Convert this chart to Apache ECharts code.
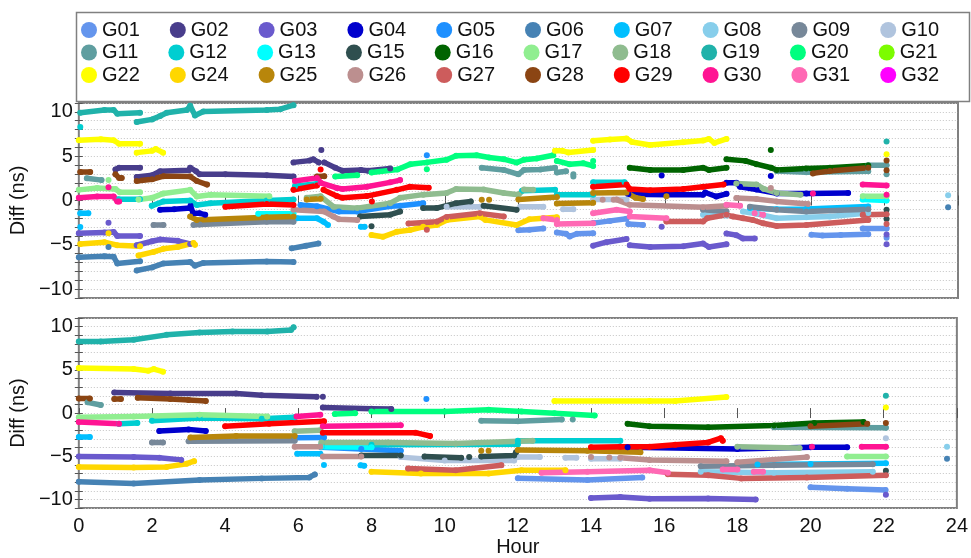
<!DOCTYPE html>
<html>
<head>
<meta charset="utf-8">
<title>GPS satellite clock difference</title>
<script src="https://cdn.jsdelivr.net/npm/echarts@6/dist/echarts.min.js"></script>
<style>
  html, body { margin: 0; padding: 0; background: #fff; }
  #chart { width: 971px; height: 558px; }
</style>
</head>
<body>
<div id="chart"></div>
<script>
// Satellites shown in the legend, in order, with their marker colours.
const SATS = ['G01','G02','G03','G04','G05','G06','G07','G08','G09','G10',
              'G11','G12','G13','G15','G16','G17','G18','G19','G20','G21',
              'G22','G24','G25','G26','G27','G28','G29','G30','G31','G32'];
const COLORS = ['#6495ED','#483D8B','#6A5ACD','#0000CD','#1E90FF','#4682B4','#00BFFF','#87CEEB','#778899','#B0C4DE',
                '#5F9EA0','#00CED1','#00FFFF','#2F4F4F','#006400','#90EE90','#8FBC8F','#20B2AA','#00FF7F','#7CFC00',
                '#FFFF00','#FFD700','#B8860B','#BC8F8F','#CD5C5C','#8B4513','#FF0000','#FF1493','#FF69B4','#FF00FF'];

// Axis ticks
const HOUR_TICKS = [0, 2, 4, 6, 8, 10, 12, 14, 16, 18, 20, 22, 24];
const DIFF_LABELS = [-10, -5, 0, 5, 10];

// Each track is a list of arcs; each arc is a list of [hour, diff ns].
// Upper panel
const G01_top = [[[12.0,-3.35],[12.3,-3.3],[12.68,-3.15]],[[13.05,-3.6],[13.3,-3.75],[13.4,-4.05],[13.6,-3.75],[14.04,-3.7]],[[14.05,-2.55],[14.5,-2.3],[14.95,-2.05]],[[15.0,-2.65],[15.4,-2.75]],[[20.0,-3.85],[20.3,-3.95],[20.8,-3.9],[21.55,-3.8]],[[21.4,-3.15],[22.05,-3.15]],[[22.05,-4.2]]];
const G02_top = [[[1.0,3.5],[1.1,3.7],[1.67,3.7]],[[1.58,2.65],[2.0,2.85],[2.22,3.3],[3.0,3.4],[3.04,3.7],[3.2,3.3],[3.3,2.95],[4.0,2.95],[5.13,2.85],[5.86,2.7]],[[5.86,4.3],[6.3,4.5],[6.4,4.65],[6.55,4.3]],[[6.62,5.7]],[[6.7,4.3],[7.0,3.7],[7.2,3.35],[7.7,3.45],[7.9,3.35],[8.5,3.6]]];
const G03_top = [[[0.81,-2.5]],[[0.0,-3.7],[0.7,-3.6],[0.95,-3.55],[1.05,-4.0],[1.67,-4.0]],[[1.58,-5.05],[2.0,-4.6],[2.22,-4.4],[2.7,-4.55],[3.04,-4.9]],[[14.04,-5.1],[14.4,-4.7],[14.95,-4.35]],[[15.04,-5.05],[15.6,-5.25],[16.5,-5.17],[17.04,-4.86],[17.2,-5.24],[17.68,-4.94]],[[17.68,-3.72],[17.95,-3.91],[18.13,-4.29],[18.45,-4.29]],[[15.91,-2.96]],[[22.05,-3.83]],[[22.05,-4.94]]];
const G04_top = [[[2.22,-1.05],[2.6,-1.0],[3.04,-0.85],[3.05,-0.6],[3.12,-1.45],[3.3,-1.45],[3.45,-1.6]],[[15.0,0.7],[16.04,0.66],[17.04,0.66],[17.1,0.9],[17.4,0.45],[17.68,0.75]],[[17.68,2.0],[17.95,2.0],[18.05,1.54],[18.5,1.23],[19.05,0.8],[19.86,0.78],[21.0,0.85]],[[15.91,2.83]],[[18.89,2.76]]];
const G05_top = [[[6.05,-0.5],[6.5,-0.65],[7.1,-1.25],[7.6,-1.25],[8.5,-0.65],[8.77,-0.6],[9.4,-0.3]],[[9.5,5.1]]];
const G06_top = [[[0.0,-6.4],[0.7,-6.3],[0.95,-6.35],[1.05,-7.1],[1.67,-6.85]],[[1.58,-7.9],[2.0,-7.55],[2.31,-7.1],[3.04,-6.95],[3.17,-7.35],[3.4,-7.05],[5.13,-6.88],[5.86,-6.95]],[[5.81,-5.4],[6.2,-5.1],[6.54,-4.85]],[[0.81,-5.25]],[[23.73,-0.75]]];
const G07_top = [[[0.04,-1.45],[0.26,-1.45]],[[0.04,-3.0]],[[5.96,-2.0],[6.5,-2.0],[6.68,-2.4],[6.8,-2.75]],[[7.7,-2.95],[7.8,-2.95]],[[18.32,-0.85],[19.05,-1.0],[19.86,-0.95],[21.55,-0.67]]];
const G08_top = [[[17.04,-1.6],[17.68,-1.7]],[[18.13,-1.25],[18.5,-1.5],[19.05,-2.0],[19.86,-1.9],[20.5,-1.8],[21.55,-1.4]],[[23.73,0.6]]];
const G09_top = [[[2.04,-2.75],[2.31,-2.75]],[[3.13,-2.75],[3.3,-2.7],[5.13,-2.4],[5.86,-2.4]],[[17.04,-1.05],[17.68,-1.24]],[[18.32,-0.7],[19.05,-1.05],[19.86,-1.24],[21.55,-0.98]]];
const G10_top = [[[10.04,-0.7],[10.95,-0.7]],[[12.05,-0.7],[12.68,-0.7]],[[13.22,-1.0],[13.5,-1.0]],[[14.04,0.1],[14.95,0.1]]];
const G11_top = [[[0.22,2.5],[0.62,2.3]],[[11.0,3.7],[11.6,3.45],[12.0,2.95],[12.15,3.44],[12.6,3.5],[13.0,3.7]],[[13.05,3.15],[13.3,3.3]],[[13.5,2.95]],[[13.5,2.7]],[[19.05,3.33],[19.86,3.2],[21.55,3.3]],[[21.55,3.98],[22.05,3.98]],[[22.05,2.95]]];
const G12_top = [[[0.04,8.3]],[[1.08,0.15],[1.67,0.15]],[[1.99,-0.6],[2.31,-0.1],[3.04,0.0],[3.22,-0.5],[3.6,-0.3],[5.13,0.0],[5.86,0.1]],[[5.9,1.6],[6.5,1.9]],[[12.1,1.1],[13.0,1.2]],[[13.05,0.66],[14.04,0.66]],[[14.04,2.05],[14.9,2.05]]];
const G13_top = [[[4.9,-1.5],[5.86,-1.5]],[[21.4,0.1],[22.05,0.0]]];
const G15_top = [[[7.68,-1.8],[8.5,-1.6],[8.77,-1.25]],[[7.99,-2.9]],[[9.4,-0.85],[9.77,-0.86],[10.3,-0.3],[10.7,-0.1]],[[11.05,-0.6],[11.95,-1.05]],[[22.05,-1.05]],[[22.05,-2.1]]];
const G16_top = [[[15.04,3.7],[15.6,3.45],[16.5,3.45],[17.04,3.7],[17.2,3.45],[17.68,3.7]],[[17.68,4.65],[18.2,4.47],[18.5,4.1],[18.9,3.7],[19.05,3.44],[19.86,3.6],[20.5,3.7],[21.55,3.95]],[[18.89,5.7]]];
const G17_top = [[[0.0,1.2],[0.5,1.4],[1.0,1.3],[1.12,0.93],[1.67,0.93]],[[1.63,0.1],[2.0,0.3],[2.31,0.8],[3.04,1.2],[3.22,0.45],[3.6,0.65],[5.2,0.47]],[[0.81,2.3]],[[21.4,0.47],[22.05,0.47]]];
const G18_top = [[[6.22,0.3],[6.6,0.47],[6.95,-0.7],[7.6,-0.86],[8.5,-0.3],[8.77,0.3],[9.4,0.66],[10.04,0.85],[10.3,1.3],[11.05,1.25],[11.6,0.85],[12.0,0.66],[12.15,1.25],[12.4,1.2]],[[17.95,1.92],[18.5,1.8],[18.7,1.3],[19.05,0.85],[19.7,0.66]]];
const G19_top = [[[0.04,9.9],[0.7,10.2],[0.95,10.2],[1.05,9.8],[1.67,9.9]],[[1.58,8.85],[2.0,9.15],[2.22,9.54],[2.4,9.9],[2.95,10.2],[3.04,10.7],[3.17,9.6],[3.4,10.05],[5.13,10.2],[5.5,10.3],[5.86,10.75]],[[22.05,6.65]]];
const G20_top = [[[7.0,2.7],[7.6,2.85]],[[7.99,3.15],[8.7,3.5],[9.05,4.1],[9.5,4.3],[10.04,4.6],[10.3,5.05],[10.86,5.1],[11.2,4.85],[11.6,4.66],[11.95,4.28],[12.15,4.6],[12.5,4.74],[12.95,5.1]],[[13.05,4.47],[13.4,4.09],[13.77,4.2],[14.04,3.9]],[[9.5,3.52]],[[14.04,4.47]]];
const G21_top = [];
const G22_top = [[[0.0,6.8],[0.6,6.9],[0.95,6.8],[1.1,6.4],[1.67,6.4]],[[1.58,5.4],[2.0,5.6],[2.1,5.8],[2.3,5.4]],[[13.0,5.6],[13.2,5.6],[13.36,5.42],[14.04,5.7]],[[14.04,6.75],[14.5,6.87],[14.95,7.0],[15.1,6.6],[15.59,6.26],[16.5,6.57],[17.04,6.76],[17.2,6.95],[17.35,6.5],[17.68,6.95]],[[22.05,5.23]]];
const G24_top = [[[0.04,-4.9],[0.7,-4.7],[1.05,-5.05],[1.67,-5.15]],[[0.81,-3.7]],[[1.63,-6.2],[2.04,-5.8],[2.31,-5.45],[2.7,-5.25],[3.13,-4.8],[3.17,-5.0]],[[7.99,-3.9],[8.3,-4.1],[8.68,-3.53],[9.04,-3.34],[9.4,-2.96],[9.77,-2.77],[10.05,-2.2],[10.95,-1.81],[11.1,-2.19],[11.95,-2.77],[12.3,-2.12],[12.68,-2.0],[13.05,-1.9]]];
const G25_top = [[[3.04,-1.8],[3.22,-2.2],[5.13,-1.9],[5.86,-1.8]],[[6.22,0.1],[6.6,0.2]],[[11.0,0.09]],[[11.2,0.09]],[[12.0,0.1],[13.05,0.4]],[[13.05,-0.35],[14.04,-0.25]],[[14.04,0.85],[14.95,0.9],[15.2,0.3],[15.4,0.17]],[[16.04,0.47]]];
const G26_top = [[[5.86,-1.05],[6.7,-1.24],[6.95,-1.81],[7.1,-2.12],[7.6,-2.19]],[[14.3,0.09]],[[14.6,0.09]],[[14.68,0.1],[15.04,-0.48],[17.04,-0.75],[17.68,-0.59]],[[17.95,0.28],[18.5,0.17],[19.05,-0.1],[19.9,-0.4]],[[18.89,1.42]]];
const G27_top = [[[9.0,-2.6],[9.77,-2.4],[10.04,-1.85],[10.95,-1.45],[11.6,-1.8]],[[9.5,-3.3]],[[16.04,-2.38],[17.04,-2.38],[17.15,-2.0],[17.68,-1.62],[17.86,-1.81],[18.13,-2.0],[18.4,-2.2],[18.68,-2.57],[19.05,-2.88],[19.86,-2.77],[21.55,-2.2]],[[21.4,-1.62],[22.05,-1.55]],[[22.05,-2.65]]];
const G28_top = [[[0.04,3.22],[0.31,3.22]],[[1.0,2.95],[1.1,2.55],[1.17,2.55]],[[1.58,2.2],[2.0,2.4],[2.31,2.75],[3.04,2.7],[3.22,2.2],[3.5,1.8]],[[6.5,2.7],[6.7,2.75]],[[20.04,3.06],[20.5,3.33],[21.55,3.7]],[[22.05,4.5]],[[22.05,3.4]]];
const G29_top = [[[4.0,-0.7],[5.13,-0.4],[5.86,-0.5]],[[5.86,1.2],[6.5,1.7]],[[6.6,3.5]],[[6.68,1.2],[7.04,0.5],[7.2,0.3],[7.86,0.5],[8.68,1.2],[9.04,1.55],[9.55,1.45]],[[8.0,-0.1]],[[14.04,1.55],[14.95,1.8],[15.04,1.3],[15.6,1.15],[16.5,1.3],[17.04,1.55],[17.6,1.8]]];
const G30_top = [[[0.0,0.3],[0.5,0.45],[0.95,0.45],[1.05,-0.1],[1.1,-0.1]],[[0.81,1.5]],[[5.9,2.2],[6.5,2.55],[6.6,2.0],[7.04,1.42],[7.2,1.31],[7.86,1.55],[8.5,2.05],[8.77,2.3]],[[21.4,1.8],[22.05,1.7]],[[20.04,0.8]],[[22.05,0.66]]];
const G31_top = [[[12.68,-2.0],[13.05,-2.19]],[[13.05,-2.65],[14.04,-2.57]],[[14.04,-1.43],[14.68,-1.05],[15.04,-1.24]],[[15.04,-1.81],[16.04,-2.0]],[[17.68,-0.48],[18.05,-0.59]],[[18.45,-1.43],[18.68,-1.62]]];
const G32_top = [];

// Lower panel
const G01_bottom = [[[12.0,-7.55],[13.9,-7.75],[15.4,-7.45]],[[20.0,-8.6],[21.0,-8.75],[22.05,-8.9]]];
const G02_bottom = [[[0.97,2.37],[2.5,2.26],[4.3,2.26],[5.0,2.07],[6.5,1.88]],[[6.67,1.88]],[[6.67,0.63],[8.0,0.5],[8.54,0.48]]];
const G03_bottom = [[[0.0,-5.03],[1.5,-5.1],[2.2,-5.18],[2.8,-5.42]],[[14.0,-9.82],[14.8,-9.71],[15.6,-9.93],[17.2,-9.9],[18.5,-10.0]],[[22.06,-9.46]]];
const G04_bottom = [[[2.2,-2.08],[3.0,-1.89],[3.47,-2.08]],[[15.0,-3.97],[18.0,-4.16],[20.0,-3.97],[21.0,-3.97]]];
const G05_bottom = [[[5.9,-2.85],[6.7,-2.84]],[[6.63,-3.97],[7.72,-4.16],[8.8,-4.35]],[[9.5,1.62]]];
const G06_bottom = [[[0.0,-7.95],[1.5,-8.14],[3.3,-7.75],[5.0,-7.56],[6.3,-7.45],[6.45,-7.1]],[[23.73,-5.3]]];
const G07_bottom = [[[0.0,-2.76],[0.3,-2.76]],[[5.97,-4.7],[6.6,-4.7]],[[6.7,-6.0]],[[7.7,-6.05],[7.8,-6.1]],[[18.55,-5.95],[20.0,-5.9],[22.06,-5.8]]];
const G08_bottom = [[[17.0,-6.8],[19.0,-6.92],[21.7,-6.8]],[[23.73,-3.89]]];
const G09_bottom = [[[2.0,-3.4],[2.3,-3.4]],[[3.0,-3.25],[5.9,-3.21]],[[17.0,-6.16],[19.0,-6.05],[21.7,-5.93]]];
const G10_bottom = [[[8.8,-5.1],[10.0,-5.5],[11.9,-5.5]],[[12.0,-5.1],[12.6,-5.1]],[[13.3,-5.18],[13.6,-5.18]],[[14.0,-5.3],[14.8,-5.3]],[[22.06,-2.91]]];
const G11_bottom = [[[0.24,1.24],[0.6,0.94]],[[11.0,-0.88],[12.0,-0.95],[13.2,-0.76]],[[13.5,-0.76]],[[19.0,-1.63],[22.06,-1.71]]];
const G12_bottom = [[[1.1,-1.25],[1.6,-1.14]],[[2.0,-0.88],[3.3,-0.57],[5.0,-0.65],[5.9,-0.5]],[[6.63,-3.67],[8.0,-3.67],[12.0,-3.6]],[[12.0,-3.21],[14.8,-3.21]]];
const G13_bottom = [[[6.63,-3.89],[8.0,-3.97]]];
const G15_bottom = [[[7.72,-4.92],[8.8,-4.92]],[[9.45,-5.03],[10.45,-5.18]],[[10.67,-5.1]],[[11.0,-5.03],[11.9,-4.92],[11.95,-4.54]],[[22.06,-6.69]]];
const G16_bottom = [[[15.0,-1.25],[15.6,-1.52],[17.2,-1.63],[19.0,-1.44],[20.1,-1.14],[21.45,-1.03]]];
const G17_bottom = [[[0.0,-0.5],[1.5,-0.39],[3.3,-0.2],[5.15,-0.39]],[[21.0,-5.03],[22.06,-5.03]]];
const G18_bottom = [[[5.9,-2.1],[6.6,-2.0]],[[6.63,-3.4],[8.45,-3.4],[10.3,-3.52],[12.4,-3.21]],[[18.0,-3.89],[19.7,-4.05]]];
const G19_bottom = [[[0.0,8.29],[0.6,8.29],[1.5,8.48],[2.4,9.05],[3.3,9.31],[4.2,9.43],[5.15,9.43],[5.8,9.62],[5.87,9.92]],[[22.06,2.0]]];
const G20_bottom = [[[7.0,-0.12],[7.55,-0.02]],[[8.0,0.18],[10.0,0.18],[11.2,0.37],[12.1,0.18],[13.0,-0.02],[14.1,-0.29]]];
const G21_bottom = [];
const G22_bottom = [[[0.0,5.2],[1.5,5.09],[1.9,4.9],[2.05,5.09],[2.3,4.79]],[[13.0,1.39],[15.6,1.39],[16.3,1.39],[17.7,1.85]],[[22.06,0.63]]];
const G24_bottom = [[[0.0,-6.23],[1.5,-6.31],[2.4,-6.23],[2.95,-5.86],[3.15,-5.57]],[[8.0,-6.8],[9.35,-7.0],[11.2,-7.0],[12.1,-6.61],[13.3,-6.61]]];
const G25_bottom = [[[3.05,-2.84],[4.3,-2.65],[5.9,-2.65]],[[11.0,-4.35]],[[11.2,-4.35]],[[12.0,-4.27],[13.9,-4.35],[15.35,-4.54]]];
const G26_bottom = [[[5.9,-3.89],[6.6,-3.89]],[[6.67,-5.03],[7.72,-5.03]],[[14.0,-5.1]],[[14.5,-5.15]],[[14.8,-5.18],[15.6,-5.42],[17.7,-5.57]],[[18.0,-5.68],[19.9,-5.1]]];
const G27_bottom = [[[9.0,-6.42],[10.3,-6.61],[11.55,-6.05]],[[16.1,-7.07],[17.2,-7.19],[18.1,-7.56],[19.9,-7.45],[22.06,-7.19]]];
const G28_bottom = [[[0.0,1.69],[0.3,1.69]],[[0.97,1.62],[1.15,1.62]],[[1.61,1.77],[2.5,1.62],[3.0,1.5],[3.47,1.39]],[[20.0,-1.52],[21.55,-1.25]],[[22.06,-1.14]]];
const G29_bottom = [[[4.0,-1.52],[5.2,-1.25],[6.7,-0.95]],[[6.67,-2.27],[9.2,-2.27],[9.6,-2.65]],[[14.0,-3.97],[14.8,-3.9],[15.6,-3.89],[16.3,-3.67],[17.2,-3.4],[17.55,-2.91],[17.6,-3.21]]];
const G30_bottom = [[[0.0,-1.03],[1.1,-1.25]],[[5.95,-0.39],[6.6,-0.2]],[[6.67,-1.52],[8.8,-1.4]],[[21.4,-3.89],[22.06,-3.89]],[[20.04,-3.89]]];
const G31_bottom = [[[12.65,-6.92],[13.9,-6.8],[15.6,-6.61],[16.1,-6.92]],[[17.6,-6.54],[18.0,-6.54]],[[18.45,-6.8],[18.7,-6.8]]];
const G32_bottom = [];

const TOP_TRACKS = [G01_top,G02_top,G03_top,G04_top,G05_top,G06_top,G07_top,G08_top,G09_top,G10_top,
                    G11_top,G12_top,G13_top,G15_top,G16_top,G17_top,G18_top,G19_top,G20_top,G21_top,
                    G22_top,G24_top,G25_top,G26_top,G27_top,G28_top,G29_top,G30_top,G31_top,G32_top];
const BOTTOM_TRACKS = [G01_bottom,G02_bottom,G03_bottom,G04_bottom,G05_bottom,G06_bottom,G07_bottom,G08_bottom,G09_bottom,G10_bottom,
                       G11_bottom,G12_bottom,G13_bottom,G15_bottom,G16_bottom,G17_bottom,G18_bottom,G19_bottom,G20_bottom,G21_bottom,
                       G22_bottom,G24_bottom,G25_bottom,G26_bottom,G27_bottom,G28_bottom,G29_bottom,G30_bottom,G31_bottom,G32_bottom];

const FONT = '"Liberation Sans", Arial, Helvetica, sans-serif';

// Join the arcs of one track, with an empty value between arcs so the line breaks.
function arcsToData(arcs) {
  const out = [];
  arcs.forEach((arc, i) => {
    if (i > 0) out.push([arc[0][0], null]);
    arc.forEach(p => out.push(p));
  });
  return out;
}

function diffLabel(v) {
  if (DIFF_LABELS.indexOf(v) < 0) return '';
  return v < 0 ? '\u2212' + (-v) : String(v);
}
function hourLabel(v) {
  return HOUR_TICKS.indexOf(v) < 0 ? '' : String(v);
}

const GRIDS = [
  { left: 77, right: 13, top: 103, height: 195 },
  { left: 77, right: 13, top: 318, height: 195 }
];

function xAxisFor(gridIndex, position, withLabels) {
  return {
    type: 'value', gridIndex, position, min: 0, max: 24, interval: 2,
    axisLine: { show: false },
    axisTick: { show: true, inside: true, length: 5, lineStyle: { color: '#555', width: 1 } },
    axisLabel: withLabels
      ? { show: true, formatter: hourLabel, fontSize: 20, fontFamily: FONT, color: '#111', margin: 8 }
      : { show: false },
    splitLine: { show: false },
    name: withLabels ? 'Hour' : '',
    nameLocation: 'middle', nameGap: 25,
    nameTextStyle: { fontSize: 20, fontFamily: FONT, color: '#111' }
  };
}
function yAxisFor(gridIndex, position, withLabels) {
  return {
    type: 'value', gridIndex, position, min: -11, max: 11, interval: 1,
    axisLine: { show: false },
    axisTick: { show: true, inside: true, length: 4, lineStyle: { color: '#555', width: 1 } },
    axisLabel: withLabels
      ? { show: true, formatter: diffLabel, fontSize: 20, fontFamily: FONT, color: '#111', margin: 6 }
      : { show: false },
    splitLine: withLabels
      ? { show: true, lineStyle: { color: '#c4c4c4', width: 1, type: [1, 2] } }
      : { show: false },
    name: withLabels ? 'Diff (ns)' : '',
    nameLocation: 'middle', nameGap: 42, nameRotate: 90,
    nameTextStyle: { fontSize: 20, fontFamily: FONT, color: '#111' }
  };
}

const series = [];
[TOP_TRACKS, BOTTOM_TRACKS].forEach((tracks, panel) => {
  tracks.forEach((arcs, i) => {
    series.push({
      type: 'line',
      name: SATS[i],
      xAxisIndex: panel * 2,
      yAxisIndex: panel * 2,
      data: arcsToData(arcs),
      color: COLORS[i],
      itemStyle: { color: COLORS[i] },
      lineStyle: { color: COLORS[i], width: 5.5, cap: 'round', join: 'round' },
      symbol: 'circle',
      symbolSize: 6,
      showSymbol: true,
      showAllSymbol: true,
      connectNulls: false,
      silent: true,
      animation: false,
      emphasis: { disabled: true }
    });
  });
});

const legendRows = [SATS.slice(0, 10), SATS.slice(10, 20), SATS.slice(20, 30)];
const legend = legendRows.map((names, r) => ({
  data: names,
  left: 76,
  top: 15 + r * 22.5,
  orient: 'horizontal',
  icon: 'circle',
  itemWidth: 16,
  itemHeight: 16,
  itemGap: 30,
  selectedMode: false,
  textStyle: { fontSize: 20, fontFamily: FONT, color: '#111' }
}));

const chart = echarts.init(document.getElementById('chart'), null, { renderer: 'canvas' });
chart.setOption({
  animation: false,
  backgroundColor: '#ffffff',
  grid: GRIDS.map(g => Object.assign({ show: true, borderColor: '#808080', borderWidth: 2, backgroundColor: 'transparent' }, g)),
  xAxis: [
    xAxisFor(0, 'bottom', false), xAxisFor(0, 'top', false),
    xAxisFor(1, 'bottom', true), xAxisFor(1, 'top', false)
  ],
  yAxis: [
    yAxisFor(0, 'left', true), yAxisFor(0, 'right', false),
    yAxisFor(1, 'left', true), yAxisFor(1, 'right', false)
  ],
  legend,
  graphic: [{
    type: 'rect', left: 74, top: 10, silent: true,
    shape: { width: 893, height: 89 },
    style: { fill: 'none', stroke: '#808080', lineWidth: 1.5 }
  }],
  series
});
</script>
</body>
</html>
